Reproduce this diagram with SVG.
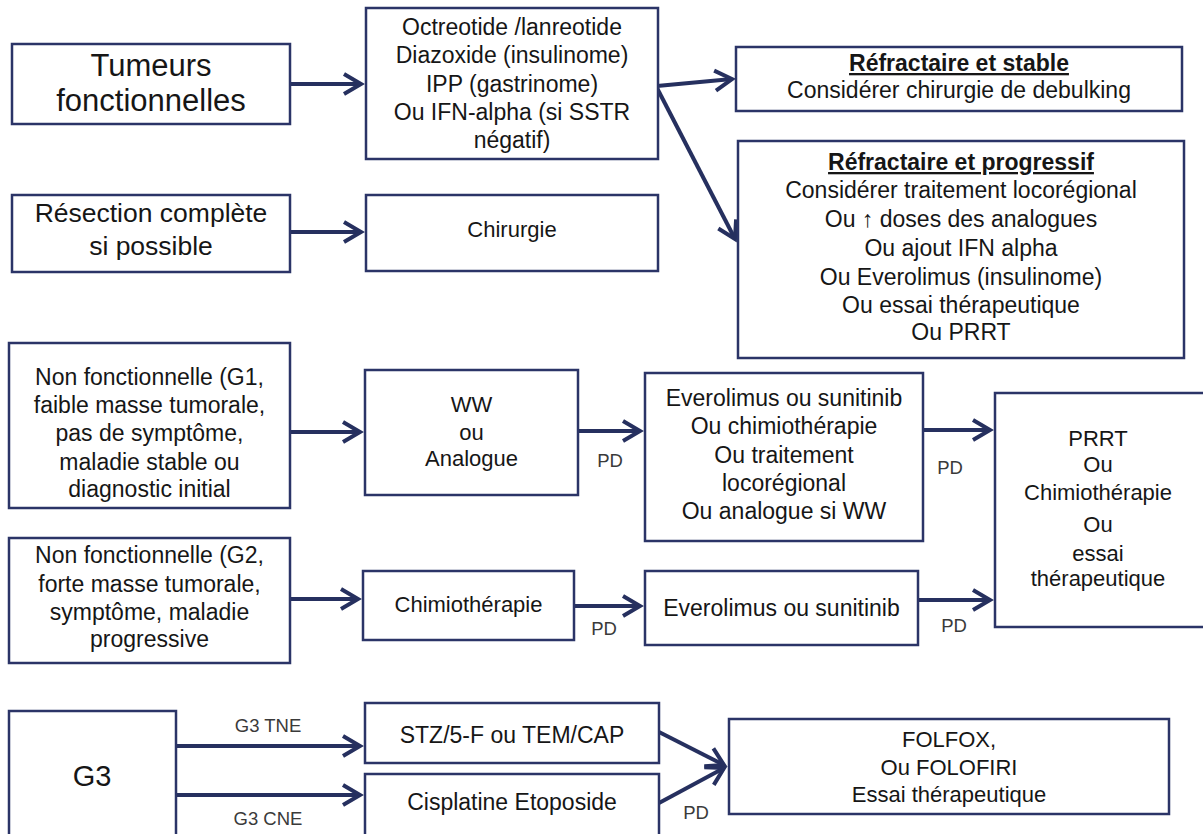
<svg xmlns="http://www.w3.org/2000/svg" width="1203" height="834" viewBox="0 0 1203 834">
<defs>
<style>
.box{fill:#fff;stroke:#2b3467;stroke-width:2.5}
text{font-family:"Liberation Sans",Arial,sans-serif;fill:#161616;text-anchor:middle}
.f23{font-size:23px}
.f22{font-size:22px}
.big{font-size:31px}
.mid{font-size:26.5px}
.hd{font-weight:bold;text-decoration:underline}
.lbl{font-size:18.5px;fill:#3a3a3a}
.conn line{stroke:#26305f;stroke-width:4;marker-end:url(#ah)}
</style>
<marker id="ah" markerUnits="userSpaceOnUse" viewBox="-22 -14 28 28" markerWidth="28" markerHeight="28" refX="0" refY="0" orient="auto">
<path d="M-17,-10 L0,0 L-17,10" fill="none" stroke="#26305f" stroke-width="4"/>
</marker>
</defs>
<rect width="1203" height="834" fill="#fff"/>

<g id="connectors" class="conn">
<line x1="290" y1="84" x2="361" y2="84"/>
<line x1="657" y1="86" x2="732" y2="79"/>
<line x1="657" y1="88" x2="735" y2="239"/>
<line x1="290" y1="232" x2="361" y2="232"/>
<line x1="290" y1="432" x2="360" y2="432"/>
<line x1="578" y1="431" x2="640" y2="431"/>
<line x1="923" y1="430" x2="990" y2="430"/>
<line x1="290" y1="599" x2="358" y2="599"/>
<line x1="570" y1="606" x2="640" y2="606"/>
<line x1="918" y1="600" x2="990" y2="600"/>
<line x1="176" y1="746" x2="360" y2="746"/>
<line x1="176" y1="795" x2="360" y2="795"/>
<line x1="659" y1="732" x2="724" y2="765"/>
<line x1="659" y1="803" x2="724" y2="768"/>
</g>

<g id="labels">
<text class="lbl" x="610" y="467">PD</text>
<text class="lbl" x="950" y="474">PD</text>
<text class="lbl" x="604" y="635">PD</text>
<text class="lbl" x="954" y="632">PD</text>
<text class="lbl" x="268" y="732">G3 TNE</text>
<text class="lbl" x="268" y="825">G3 CNE</text>
<text class="lbl" x="696" y="819">PD</text>
</g>

<g id="n-tumeurs">
<rect class="box" x="12" y="44" width="278" height="80"/>
<text class="big" x="151" y="76">Tumeurs</text>
<text class="big" x="151" y="111">fonctionnelles</text>
</g>

<g id="n-octreotide">
<rect class="box" x="366" y="8" width="292" height="151"/>
<text class="f23" x="512" y="35">Octreotide /lanreotide</text>
<text class="f23" x="512" y="63">Diazoxide (insulinome)</text>
<text class="f23" x="512" y="92">IPP (gastrinome)</text>
<text class="f23" x="512" y="120">Ou IFN-alpha (si SSTR</text>
<text class="f23" x="512" y="148">négatif)</text>
</g>

<g id="n-resection">
<rect class="box" x="12" y="195" width="278" height="77"/>
<text class="mid" x="151" y="222">Résection complète</text>
<text class="mid" x="151" y="255">si possible</text>
</g>

<g id="n-chirurgie">
<rect class="box" x="366" y="195" width="292" height="76"/>
<text class="f22" x="512" y="237">Chirurgie</text>
</g>

<g id="n-stable">
<rect class="box" x="736" y="47" width="446" height="64"/>
<text class="f23 hd" x="959" y="71">Réfractaire et stable</text>
<text class="f23" x="959" y="98">Considérer chirurgie de debulking</text>
</g>

<g id="n-progressif">
<rect class="box" x="738" y="141" width="446" height="217"/>
<text class="f23 hd" x="961" y="170">Réfractaire et progressif</text>
<text class="f23" x="961" y="198">Considérer traitement locorégional</text>
<text class="f23" x="961" y="227">Ou ↑ doses des analogues</text>
<text class="f23" x="961" y="256">Ou ajout IFN alpha</text>
<text class="f23" x="961" y="285">Ou Everolimus (insulinome)</text>
<text class="f23" x="961" y="313">Ou essai thérapeutique</text>
<text class="f23" x="961" y="340">Ou PRRT</text>
</g>

<g id="n-g1">
<rect class="box" x="9" y="343" width="281" height="165"/>
<text class="f23" x="149.5" y="385">Non fonctionnelle (G1,</text>
<text class="f23" x="149.5" y="413">faible masse tumorale,</text>
<text class="f23" x="149.5" y="441">pas de symptôme,</text>
<text class="f23" x="149.5" y="470">maladie stable ou</text>
<text class="f23" x="149.5" y="497">diagnostic initial</text>
</g>

<g id="n-ww">
<rect class="box" x="365" y="370" width="213" height="125"/>
<text class="f22" x="471.5" y="412">WW</text>
<text class="f22" x="471.5" y="440">ou</text>
<text class="f22" x="471.5" y="466">Analogue</text>
</g>

<g id="n-everolimus1">
<rect class="box" x="645" y="373" width="278" height="168"/>
<text class="f23" x="784" y="406">Everolimus ou sunitinib</text>
<text class="f23" x="784" y="434">Ou chimiothérapie</text>
<text class="f23" x="784" y="463">Ou traitement</text>
<text class="f23" x="784" y="491">locorégional</text>
<text class="f23" x="784" y="519">Ou analogue si WW</text>
</g>

<g id="n-prrt">
<rect class="box" x="995" y="393" width="215" height="234"/>
<text class="f22" x="1098" y="446">PRRT</text>
<text class="f22" x="1098" y="472">Ou</text>
<text class="f22" x="1098" y="500">Chimiothérapie</text>
<text class="f22" x="1098" y="532">Ou</text>
<text class="f22" x="1098" y="561">essai</text>
<text class="f22" x="1098" y="586">thérapeutique</text>
</g>

<g id="n-g2">
<rect class="box" x="9" y="538" width="281" height="125"/>
<text class="f23" x="149.5" y="563">Non fonctionnelle (G2,</text>
<text class="f23" x="149.5" y="592">forte masse tumorale,</text>
<text class="f23" x="149.5" y="620">symptôme, maladie</text>
<text class="f23" x="149.5" y="647">progressive</text>
</g>

<g id="n-chimio">
<rect class="box" x="363" y="571" width="211" height="69"/>
<text class="f22" x="468.5" y="612">Chimiothérapie</text>
</g>

<g id="n-everolimus2">
<rect class="box" x="645" y="571" width="273" height="74"/>
<text class="f23" x="781.5" y="616">Everolimus ou sunitinib</text>
</g>

<g id="n-g3">
<rect class="box" x="9" y="711" width="167" height="130"/>
<text style="font-size:29px" x="92" y="786">G3</text>
</g>

<g id="n-stz">
<rect class="box" x="365" y="703" width="294" height="60"/>
<text class="f23" x="512" y="743">STZ/5-F ou TEM/CAP</text>
</g>

<g id="n-cisplatine">
<rect class="box" x="365" y="774" width="294" height="67"/>
<text class="f23" x="512" y="810">Cisplatine Etoposide</text>
</g>

<g id="n-folfox">
<rect class="box" x="729" y="719" width="440" height="95"/>
<text class="f22" x="949" y="747">FOLFOX,</text>
<text class="f22" x="949" y="775">Ou FOLOFIRI</text>
<text class="f22" x="949" y="802">Essai thérapeutique</text>
</g>
</svg>
